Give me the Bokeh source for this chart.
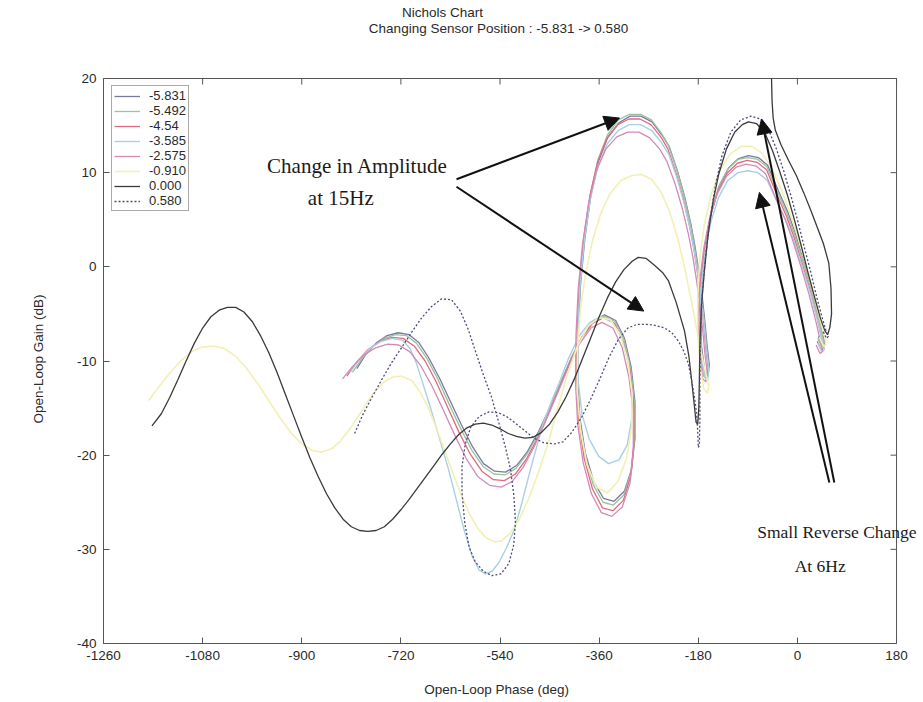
from bokeh.plotting import figure
from bokeh.models import Range1d, FixedTicker, Label, Arrow, NormalHead, Title
from bokeh.embed import file_html
from bokeh.resources import INLINE

# Nichols traces: (open-loop phase [deg], open-loop gain [dB]) per sensor position
pos_m5831 = [(-800, -10.8), (-785, -9.4), (-765, -8.1), (-745, -7.3), (-725, -7.0), (-705, -7.2), (-688, -8.0), (-670, -9.6), (-650, -11.8), (-630, -14.3), (-610, -16.8), (-590, -19.1), (-570, -20.9), (-550, -21.7), (-530, -21.8), (-510, -21.1), (-490, -19.6), (-470, -17.5), (-450, -15.0), (-430, -12.3), (-410, -9.6), (-390, -7.3), (-370, -5.7), (-350, -5.1), (-330, -5.7), (-314, -7.6), (-302, -10.6), (-295, -14.3), (-295, -18.2), (-301, -21.5), (-314, -23.8), (-333, -24.9), (-352, -24.6), (-370, -22.8), (-385, -19.8), (-395, -16.0), (-399, -11.8), (-398, -7.0), (-394, -2.0), (-386, 3.0), (-375, 7.6), (-361, 11.2), (-344, 13.8), (-324, 15.3), (-304, 16.0), (-284, 16.0), (-264, 15.4), (-246, 14.0), (-233, 12.8), (-218, 10.2), (-205, 7.5), (-194, 4.7), (-186, 2.2), (-179, -0.5), (-173, -3.1), (-168, -5.8), (-164, -8.4), (-160, -10.4), (-162, -11.5), (-168, -11.2), (-174, -8.5), (-176, -5.0), (-173, -1.0), (-166, 2.6), (-156, 5.8), (-142, 8.6), (-125, 10.5), (-107, 11.5), (-89, 11.8), (-71, 11.6), (-54, 10.8), (-34, 8.0), (-18, 5.9), (-5, 3.8), (10, 1.0), (25, -2.0), (38, -5.0), (47, -7.3), (50, -8.1), (45, -8.3), (38, -7.4)]

pos_m5492 = [(-808, -11.2), (-790, -9.7), (-770, -8.4), (-750, -7.6), (-730, -7.2), (-710, -7.3), (-692, -8.1), (-673, -9.7), (-653, -11.9), (-633, -14.5), (-612, -17.1), (-592, -19.4), (-571, -21.2), (-551, -22.0), (-531, -22.1), (-511, -21.4), (-491, -19.9), (-471, -17.8), (-451, -15.2), (-431, -12.5), (-411, -9.8), (-391, -7.5), (-371, -5.8), (-351, -5.2), (-331, -5.8), (-315, -7.7), (-303, -10.7), (-296, -14.4), (-296, -18.4), (-302, -21.8), (-315, -24.2), (-334, -25.3), (-353, -25.0), (-371, -23.1), (-386, -20.0), (-396, -16.1), (-400, -11.9), (-399, -7.0), (-395, -2.0), (-387, 3.1), (-376, 7.7), (-362, 11.4), (-345, 14.0), (-325, 15.6), (-305, 16.2), (-285, 16.2), (-265, 15.6), (-247, 14.2), (-234, 12.9), (-219, 10.3), (-206, 7.6), (-195, 4.8), (-187, 2.2), (-180, -0.5), (-174, -3.2), (-169, -5.9), (-165, -8.5), (-161, -10.6), (-163, -11.7), (-169, -11.4), (-175, -8.6), (-177, -5.0), (-174, -1.0), (-167, 2.5), (-157, 5.7), (-143, 8.5), (-126, 10.4), (-108, 11.4), (-90, 11.6), (-72, 11.4), (-55, 10.6), (-35, 7.8), (-19, 5.7), (-6, 3.6), (9, 0.8), (24, -2.2), (37, -5.2), (46, -7.5), (49, -8.3), (44, -8.5), (37, -7.6)]

pos_m454 = [(-818, -11.6), (-800, -10.1), (-780, -8.8), (-758, -7.9), (-736, -7.5), (-716, -7.6), (-696, -8.4), (-676, -10.0), (-656, -12.2), (-636, -14.8), (-615, -17.5), (-594, -19.9), (-573, -21.7), (-552, -22.6), (-532, -22.7), (-512, -22.0), (-492, -20.4), (-472, -18.2), (-452, -15.6), (-432, -12.8), (-412, -10.0), (-392, -7.6), (-372, -6.0), (-352, -5.4), (-332, -6.0), (-316, -8.0), (-304, -11.0), (-297, -14.7), (-297, -18.8), (-303, -22.3), (-316, -24.8), (-335, -25.9), (-354, -25.6), (-372, -23.6), (-387, -20.4), (-397, -16.4), (-401, -12.0), (-400, -7.0), (-396, -2.0), (-388, 3.0), (-377, 7.5), (-363, 11.1), (-346, 13.6), (-326, 15.1), (-306, 15.7), (-286, 15.7), (-266, 15.1), (-248, 13.8), (-235, 12.5), (-220, 9.9), (-207, 7.2), (-196, 4.4), (-188, 1.9), (-181, -0.8), (-175, -3.5), (-170, -6.2), (-166, -8.8), (-162, -10.8), (-164, -11.9), (-170, -11.6), (-176, -8.8), (-178, -5.2), (-175, -1.2), (-168, 2.3), (-158, 5.4), (-144, 8.1), (-127, 10.0), (-109, 11.0), (-91, 11.3), (-73, 11.1), (-56, 10.3), (-36, 7.5), (-20, 5.4), (-7, 3.3), (8, 0.5), (23, -2.5), (36, -5.5), (45, -7.8), (48, -8.6), (43, -8.8), (36, -7.9)]

pos_m3585 = [(-812, -11.2), (-795, -9.8), (-775, -8.6), (-755, -7.9), (-735, -7.6), (-717, -7.8), (-703, -8.7), (-692, -10.2), (-680, -12.4), (-666, -15.0), (-650, -18.2), (-634, -21.4), (-619, -24.8), (-604, -28.2), (-590, -30.8), (-578, -32.2), (-566, -32.6), (-554, -32.3), (-542, -31.4), (-528, -29.8), (-514, -27.9), (-500, -25.0), (-486, -21.8), (-472, -18.8), (-459, -16.2), (-446, -14.2), (-433, -12.4), (-416, -9.8), (-397, -7.4), (-377, -5.9), (-357, -5.3), (-337, -5.8), (-320, -7.4), (-308, -9.9), (-301, -13.0), (-301, -16.2), (-309, -18.9), (-324, -20.5), (-343, -20.9), (-361, -20.1), (-378, -18.3), (-391, -15.7), (-398, -12.2), (-399, -7.2), (-395, -2.2), (-387, 2.8), (-376, 7.2), (-362, 10.7), (-345, 13.1), (-325, 14.5), (-305, 15.1), (-285, 15.1), (-265, 14.5), (-247, 13.2), (-234, 12.0), (-219, 9.5), (-206, 6.8), (-195, 4.1), (-187, 1.6), (-180, -1.1), (-174, -3.7), (-169, -6.4), (-165, -9.0), (-161, -10.9), (-163, -12.0), (-169, -11.7), (-175, -9.0), (-177, -5.5), (-174, -1.6), (-167, 1.8), (-157, 4.8), (-143, 7.4), (-126, 9.2), (-108, 10.0), (-90, 10.2), (-72, 10.0), (-55, 9.2), (-35, 6.7), (-19, 4.7), (-6, 2.7), (9, 0.0), (24, -2.9), (37, -5.8), (46, -8.0), (49, -8.8), (44, -9.0), (37, -8.1)]

pos_m2575 = [(-826, -11.9), (-808, -10.6), (-788, -9.4), (-766, -8.6), (-744, -8.2), (-724, -8.3), (-704, -9.0), (-684, -10.5), (-664, -12.6), (-643, -15.2), (-622, -17.9), (-601, -20.4), (-580, -22.3), (-559, -23.2), (-538, -23.4), (-518, -22.8), (-498, -21.3), (-478, -19.1), (-458, -16.5), (-437, -13.6), (-416, -10.7), (-396, -8.2), (-375, -6.5), (-355, -5.9), (-335, -6.5), (-318, -8.6), (-306, -11.7), (-298, -15.4), (-298, -19.5), (-304, -23.0), (-318, -25.5), (-337, -26.5), (-356, -26.1), (-374, -24.1), (-389, -20.8), (-399, -16.7), (-403, -12.2), (-402, -7.2), (-398, -2.3), (-390, 2.5), (-379, 6.8), (-365, 10.2), (-348, 12.5), (-328, 13.8), (-308, 14.3), (-288, 14.3), (-268, 13.7), (-250, 12.5), (-237, 11.2), (-222, 8.8), (-209, 6.2), (-198, 3.5), (-190, 1.1), (-183, -1.5), (-177, -4.1), (-172, -6.7), (-168, -9.2), (-164, -11.1), (-166, -12.2), (-172, -11.9), (-178, -9.0), (-180, -5.4), (-177, -1.4), (-170, 2.0), (-160, 5.0), (-146, 7.7), (-129, 9.6), (-111, 10.6), (-93, 10.9), (-75, 10.7), (-58, 9.9), (-38, 7.1), (-22, 5.0), (-9, 2.9), (6, 0.1), (21, -2.9), (34, -5.9), (43, -8.2), (46, -9.0), (41, -9.2), (34, -8.3)]

pos_m0910 = [(-1178, -14.2), (-1160, -12.8), (-1140, -11.3), (-1120, -10.0), (-1100, -9.0), (-1080, -8.5), (-1058, -8.4), (-1040, -8.7), (-1020, -9.5), (-1000, -10.8), (-980, -12.4), (-960, -14.2), (-940, -16.0), (-920, -17.6), (-900, -18.8), (-880, -19.5), (-864, -19.7), (-845, -19.3), (-830, -18.5), (-810, -17.0), (-790, -15.2), (-770, -13.4), (-750, -12.2), (-735, -11.7), (-719, -11.6), (-700, -12.1), (-685, -13.3), (-670, -15.0), (-655, -17.2), (-640, -19.6), (-625, -22.0), (-610, -24.3), (-595, -26.3), (-580, -27.8), (-565, -28.8), (-550, -29.2), (-537, -29.1), (-522, -28.3), (-505, -26.8), (-488, -24.6), (-470, -21.8), (-452, -18.6), (-435, -15.0), (-418, -11.5), (-400, -8.5), (-380, -6.3), (-360, -5.4), (-340, -5.6), (-322, -7.2), (-308, -10.0), (-300, -13.5), (-301, -17.0), (-310, -20.3), (-326, -22.8), (-345, -24.0), (-365, -23.4), (-382, -21.0), (-394, -17.3), (-400, -13.0), (-399, -8.5), (-394, -4.5), (-385, -0.8), (-372, 2.8), (-357, 5.7), (-340, 7.8), (-320, 9.2), (-300, 9.7), (-283, 9.8), (-265, 9.3), (-248, 8.0), (-233, 6.0), (-218, 3.2), (-205, 0.0), (-194, -3.2), (-184, -6.3), (-175, -9.0), (-167, -11.2), (-161, -12.6), (-163, -13.4), (-170, -13.0), (-177, -10.5), (-181, -7.0), (-181, -3.0), (-177, 1.0), (-169, 4.5), (-157, 7.6), (-141, 10.2), (-122, 12.0), (-102, 12.8), (-82, 12.8), (-63, 12.0), (-46, 10.4), (-30, 8.3), (-15, 6.0), (0, 3.3), (15, 0.3), (30, -3.0), (42, -5.8), (50, -7.6), (52, -8.3), (47, -8.4), (40, -7.5)]

pos_0000 = [(-1172, -16.9), (-1155, -15.6), (-1140, -13.9), (-1125, -12.0), (-1110, -10.0), (-1095, -8.1), (-1080, -6.5), (-1065, -5.3), (-1050, -4.6), (-1035, -4.3), (-1020, -4.3), (-1005, -4.8), (-990, -5.8), (-975, -7.3), (-960, -9.1), (-945, -11.2), (-930, -13.5), (-915, -15.8), (-900, -18.1), (-885, -20.3), (-870, -22.3), (-855, -24.1), (-840, -25.6), (-825, -26.8), (-810, -27.6), (-795, -28.0), (-780, -28.1), (-765, -28.0), (-750, -27.6), (-735, -26.8), (-720, -25.8), (-705, -24.7), (-690, -23.5), (-675, -22.3), (-660, -21.1), (-645, -19.9), (-630, -18.8), (-615, -17.8), (-600, -17.1), (-585, -16.7), (-570, -16.6), (-555, -16.8), (-540, -17.2), (-525, -17.7), (-510, -18.0), (-495, -18.2), (-480, -18.1), (-465, -17.6), (-450, -16.7), (-435, -15.4), (-420, -13.8), (-405, -11.9), (-390, -9.7), (-375, -7.5), (-360, -5.3), (-345, -3.3), (-330, -1.6), (-315, -0.3), (-300, 0.6), (-289, 1.0), (-275, 0.9), (-260, 0.2), (-245, -0.6), (-234, -1.5), (-220, -3.8), (-205, -6.8), (-197, -9.5), (-192, -12.1), (-187, -14.8), (-184, -16.5), (-181, -16.7), (-179, -15.0), (-178, -12.0), (-177, -8.0), (-174, -4.0), (-169, -0.5), (-162, 3.5), (-153, 7.0), (-143, 9.8), (-129, 12.5), (-114, 14.3), (-100, 15.1), (-89, 15.4), (-74, 15.2), (-59, 14.2), (-45, 12.3), (-32, 10.1), (-18, 7.6), (-5, 4.9), (8, 2.0), (20, -0.8), (32, -3.4), (42, -5.5), (50, -6.8), (55, -7.2), (59, -6.4), (62, -5.0), (61, -2.3), (57, 0.4), (47, 2.5), (36, 4.2), (25, 5.9), (12, 7.8), (-2, 9.7), (-16, 11.3), (-30, 13.0), (-40, 14.5), (-44, 15.8), (-46, 17.6), (-47, 20.0)]

pos_0580 = [(-804, -17.7), (-790, -15.8), (-773, -13.9), (-755, -12.0), (-737, -10.2), (-719, -8.6), (-700, -6.9), (-682, -5.4), (-664, -4.2), (-646, -3.4), (-628, -3.5), (-612, -4.7), (-598, -6.6), (-585, -8.9), (-570, -11.5), (-555, -13.9), (-542, -16.6), (-530, -19.2), (-521, -21.5), (-515, -24.2), (-512, -27.0), (-515, -29.5), (-524, -31.5), (-538, -32.6), (-555, -32.8), (-571, -32.3), (-585, -31.3), (-596, -29.8), (-604, -27.2), (-609, -24.0), (-609, -21.2), (-603, -18.8), (-593, -17.0), (-578, -15.9), (-560, -15.4), (-543, -15.5), (-528, -15.9), (-512, -16.6), (-495, -17.4), (-478, -18.2), (-460, -18.7), (-441, -18.8), (-426, -18.6), (-410, -17.6), (-392, -16.0), (-375, -14.0), (-358, -11.8), (-342, -9.6), (-325, -7.7), (-308, -6.5), (-291, -6.1), (-275, -6.1), (-260, -6.2), (-241, -6.5), (-228, -7.0), (-216, -7.9), (-206, -9.0), (-198, -10.3), (-192, -12.1), (-187, -13.8), (-183, -15.6), (-181, -17.5), (-180, -19.2), (-178, -18.9), (-177, -16.0), (-177, -12.0), (-176, -7.5), (-173, -3.0), (-167, 1.0), (-159, 5.0), (-149, 8.6), (-137, 11.8), (-121, 14.3), (-103, 15.6), (-84, 16.0), (-67, 15.7), (-52, 14.5), (-38, 12.5), (-25, 10.2), (-12, 7.6), (0, 5.0), (12, 2.2), (24, -0.5), (35, -3.2), (45, -5.4), (52, -6.8), (56, -7.4), (53, -7.6), (47, -6.9)]

series_labels = ["-5.831", "-5.492", "-4.54", "-3.585", "-2.575", "-0.910", "0.000", "0.580"]
series_data = [pos_m5831, pos_m5492, pos_m454, pos_m3585, pos_m2575, pos_m0910, pos_0000, pos_0580]
series_colors = ["#7a78a6", "#9cc29a", "#e06a80", "#a9cfe4", "#d48ab6", "#f2f0b4", "#3a3a3a", "#4c4c7c"]
series_widths = [1.3, 1.3, 1.3, 1.4, 1.3, 1.6, 1.3, 1.3]
series_dash = ["solid"] * 7 + ["2 2"]

phase_ticks = [-1260, -1080, -900, -720, -540, -360, -180, 0, 180]
gain_ticks = [-40, -30, -20, -10, 0, 10, 20]

FONT = "Liberation Sans"
SERIF = "Liberation Serif"
INK = "#2a2a2a"
EDGE = "#555555"
SMALL = "13.5px"
NBSP = "\u00a0"

# Canvas geometry: the axes box spans x 102..896 px and y 78..643 px. The frame is
# stretched to the canvas top/right so that the titles and the right-hand note can
# be drawn as plain labels outside the box.
W, H = 923, 702
BOX_L, BOX_R, BOX_T, BOX_B = 102, 896, 78, 643
x_per_px = (phase_ticks[-1] - phase_ticks[0]) / (BOX_R - BOX_L)
y_per_px = (gain_ticks[-1] - gain_ticks[0]) / (BOX_B - BOX_T)
x_end = phase_ticks[-1] + (W - BOX_R) * x_per_px
y_end = gain_ticks[-1] + BOX_T * y_per_px

p = figure(width=W, height=H, output_backend="svg", toolbar_location=None,
           x_range=Range1d(phase_ticks[0], x_end),
           y_range=Range1d(gain_ticks[0], y_end),
           min_border_left=BOX_L, min_border_right=0,
           min_border_top=0, min_border_bottom=H - BOX_B,
           background_fill_color="white", border_fill_color="white")
p.title = None
p.xgrid.visible = False
p.ygrid.visible = False
p.outline_line_color = None

for ax in (p.xaxis[0], p.yaxis[0]):
    ax.major_label_text_font = FONT
    ax.major_label_text_font_size = SMALL
    ax.major_label_text_color = INK
    ax.axis_label_text_font = FONT
    ax.axis_label_text_font_size = SMALL
    ax.axis_label_text_font_style = "normal"
    ax.axis_label_text_color = INK
    ax.axis_line_color = EDGE
    ax.major_tick_line_color = EDGE
    ax.major_tick_in = 6
    ax.major_tick_out = 0
    ax.minor_tick_line_color = None
    ax.major_label_standoff = 7

p.xaxis[0].ticker = FixedTicker(ticks=phase_ticks)
p.yaxis[0].ticker = FixedTicker(ticks=gain_ticks)
p.xaxis[0].bounds = (phase_ticks[0], phase_ticks[-1])
p.yaxis[0].bounds = (gain_ticks[0], gain_ticks[-1])
p.xaxis[0].major_label_overrides = {t: str(t) for t in phase_ticks}
p.yaxis[0].major_label_overrides = {t: str(t) for t in gain_ticks}

# the frame runs past the box on the right, so the phase label is padded with
# trailing no-break spaces to sit under the middle of the box
p.xaxis[0].axis_label = "Open-Loop Phase (deg)" + NBSP * 9
p.xaxis[0].axis_label_standoff = 19
p.add_layout(Title(text="Open-Loop Gain (dB)", align="left", offset=BOX_B - 423,
                   text_font=FONT, text_font_size=SMALL, text_font_style="normal",
                   text_color=INK, standoff=56), "left")

# top and right edges of the axes box, with inward ticks
p.segment(x0=[phase_ticks[0], phase_ticks[-1]], y0=[gain_ticks[-1], gain_ticks[0]],
          x1=[phase_ticks[-1], phase_ticks[-1]], y1=[gain_ticks[-1], gain_ticks[-1]],
          line_color=EDGE, line_width=1)
tick_dx = 6 * x_per_px
tick_dy = 6 * y_per_px
p.segment(x0=phase_ticks, y0=[gain_ticks[-1]] * len(phase_ticks),
          x1=phase_ticks, y1=[gain_ticks[-1] - tick_dy] * len(phase_ticks),
          line_color=EDGE, line_width=1)
p.segment(x0=[phase_ticks[-1]] * len(gain_ticks), y0=gain_ticks,
          x1=[phase_ticks[-1] - tick_dx] * len(gain_ticks), y1=gain_ticks,
          line_color=EDGE, line_width=1)

for pts, lab, col, wd, dash in zip(series_data, series_labels, series_colors,
                                   series_widths, series_dash):
    xs = [pt[0] for pt in pts]
    ys = [pt[1] for pt in pts]
    p.line(xs, ys, line_color=col, line_width=wd, line_dash=dash, legend_label=lab)

leg = p.legend[0]
leg.location = (8, BOX_B - 211)
leg.margin = 0
leg.padding = 2
leg.spacing = 0
leg.label_height = 15
leg.glyph_height = 14
leg.glyph_width = 26
leg.label_standoff = 9
leg.label_text_font = FONT
leg.label_text_font_size = "13px"
leg.label_text_color = INK
leg.border_line_color = EDGE
leg.border_line_width = 1
leg.background_fill_alpha = 1

# two-line title, positioned in pixels from the frame's lower-left corner
for txt, cx, cy in [("Nichols Chart", 441, 12),
                    ("Changing Sensor Position : -5.831 -> 0.580", 497, 28)]:
    p.add_layout(Label(x=cx - BOX_L, y=BOX_B - cy, x_units="screen", y_units="screen",
                       text=txt, text_font=FONT, text_font_size=SMALL,
                       text_color=INK, text_align="center", text_baseline="middle"))

# annotations
for txt, x, y, size in [("Change in Amplitude", -963, 10.7, "21px"),
                        ("at 15Hz", -889, 7.3, "21px"),
                        ("Small Reverse Change", -73, -28.2, "17.5px"),
                        ("At 6Hz", -5, -31.8, "17.5px")]:
    p.add_layout(Label(x=x, y=y, text=txt, text_font=SERIF, text_font_size=size,
                       text_color="#1a1a1a", text_baseline="middle", text_align="left"))

for x0, y0, x1, y1 in [(-619, 9.3, -323, 15.8), (-619, 8.5, -279, -4.7),
                       (67, -22.9, -65, 15.7), (58, -22.9, -69, 7.9)]:
    p.add_layout(Arrow(end=NormalHead(size=15, fill_color="#111111", line_color="#111111"),
                       x_start=x0, y_start=y0, x_end=x1, y_end=y1,
                       line_color="#111111", line_width=2))

open("out.html", "w").write(file_html(p, INLINE))
